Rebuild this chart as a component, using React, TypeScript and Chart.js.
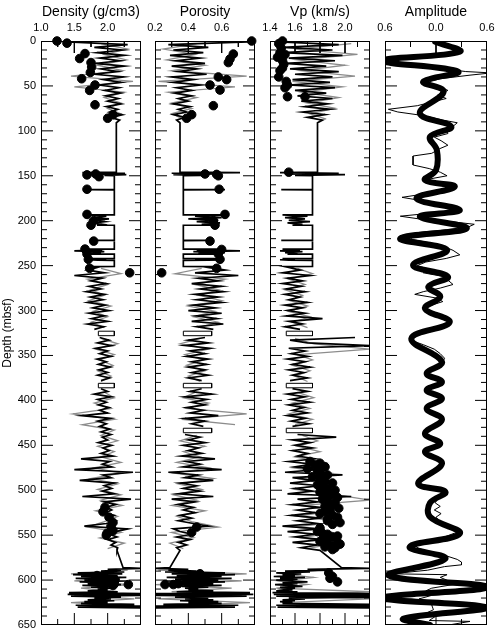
import React, { useEffect, useRef } from 'react';
import { Chart, registerables } from 'chart.js';

Chart.register(...registerables);

const FONT = "'Liberation Sans', Arial, Helvetica, sans-serif";
const GRAY = 'rgb(140,140,140)';

// ---------------- depth axis ----------------
const DEPTH_MIN = 0;
const DEPTH_MAX = 650;
const DEPTH_STEP = 10;
const DEPTH_LABEL_STEP = 50;

// ---------------- x axes ----------------
const densLabels = [1.0, 1.5, 2.0];
const poroLabels = [0.2, 0.4, 0.6];
const vpLabels = [1.4, 1.6, 1.8, 2.0];
const ampLabels = [-0.6, 0, 0.6];

// ---------------- log sampling grids (m) ----------------
const RUN_A_TOP = 1, RUN_A_STEP = 3;     // 1 .. 91
const RUN_B_TOP = 252, RUN_B_STEP = 3;   // 252 .. 567
const RUN_C_TOP = 586, RUN_C_STEP = 1;   // 586 .. 631
const GRAY_A_TOP = 3, GRAY_B_TOP = 253, GRAY_STEP = 6;
const GRAY_C_TOP = 589, GRAY_C_STEP = 4;

// depths of the sparse middle section (146-251 m), shared by the three logs
const midDepth = [146, 146.5, 147.2, 148, 148.8, 149.5, 150, 165, 165.4, 165.8,
  193.5, 193.6, 195, 196.5, 198, 199.5, 201, 202.5, 204, 205,
  205.1, 221.6, 221.8, 222.2, 231.6, 231.7, 232.5, 233.5, 234.5, 235.5,
  236.5, 237.2, 237.3, 242, 242.1, 242.8, 243.5, 244, 244.1, 251, 251.1];

// ---------------- Density (g/cm3) ----------------
const densRunA = [1.40, 2.30, 1.80, 2.22, 1.84, 2.25, 1.88, 2.18, 1.82, 2.25,
  1.90, 2.15, 1.80, 2.24, 1.94, 2.20, 1.88, 2.17, 1.96, 2.19,
  1.97, 2.16, 2.00, 2.20, 1.98, 2.15, 2.03, 2.22, 2.05, 2.18, 2.13];
const densMid = [2.13, 1.62, 2.26, 1.80, 2.28, 1.95, 2.10, 2.10, 1.70, 2.10,
  2.10, 1.72, 1.98, 1.76, 2.02, 1.80, 1.96, 1.78, 1.92, 1.84,
  2.10, 2.10, 1.79, 2.10, 2.10, 1.70, 1.92, 1.50, 1.95, 1.68,
  1.90, 1.72, 2.10, 2.10, 1.75, 1.98, 1.70, 1.85, 2.10, 2.10, 1.80];
const densRunB = [1.85, 1.70, 1.95, 1.50, 1.92, 1.75, 1.98, 1.72, 1.90, 1.68,
  1.95, 1.74, 1.93, 1.70, 1.96, 1.78, 2.02, 1.72, 1.95, 1.76,
  2.00, 1.70, 1.94, 1.80, null, null, 1.88, 2.02, 1.85, 2.06,
  1.82, 2.00, 1.88, 2.05, 1.84, 1.98, 1.86, 2.04, 1.87, 2.00,
  1.85, 2.03, 1.90, null, null, 1.90, 2.00, 1.80, 2.05, 1.85,
  1.98, 1.86, 2.02, 1.88, 2.00, 1.62, 2.04, 1.85, 1.98, 1.88,
  2.03, 1.90, 2.05, 1.92, 2.00, 1.86, 2.06, 1.93, 2.02, 1.90,
  2.08, 1.60, 2.03, 1.92, 2.06, 1.50, 2.38, 1.93, 2.05, 1.58,
  2.10, 1.95, 2.06, 1.92, 2.10, 1.62, 2.35, 1.95, 2.12, 1.98,
  2.06, 1.97, 2.10, 2.00, 2.12, 1.98, 1.65, 2.30, 2.12, 2.02,
  2.14, 2.00, 2.12, 2.05, 2.15, 2.14];
const densRunC = [2.23, 2.50, 2.00, 2.20, 1.90, 2.25, 1.55, 2.22, 1.48, 2.15,
  1.60, 2.28, 1.52, 2.18, 1.65, 2.30, 1.58, 2.12, 1.70, 2.20,
  1.62, 2.10, 1.75, 2.05, 1.85, 2.00, 1.70, 2.15, 1.42, 2.50,
  1.40, 2.50, 1.45, 2.20, 1.80, 2.05, 1.70, 2.10, 1.65, 2.00,
  1.60, 2.40, 1.52, 2.50, 1.55, 2.50];
const densGrayA = [1.90, 2.30, 1.95, 2.28, 1.85, 2.22, 1.45, 2.38, 1.50, 2.25, 1.95, 2.20, 2.00, 2.20, 2.08];
const densGrayB = [1.90, 2.20, 1.70, 2.00, 1.75, 1.95, 1.72, 2.05, 1.78, 2.00,
  1.75, 1.95, null, 1.90, 2.15, 1.82, 2.10, 1.88, 2.08, 1.85,
  2.05, 1.90, null, 1.95, 2.10, 1.80, 2.05, 1.48, 2.10, 1.62,
  2.10, 1.90, 2.15, 1.85, 2.10, 1.90, 2.20, 1.80, 2.20, 1.75,
  2.15, 1.85, 2.20, 1.90, 2.22, 1.82, 2.15, 1.95, 1.70, 2.20,
  1.88, 2.25, 2.00];
const densGrayC = [2.30, 1.45, 2.20, 1.50, 2.35, 1.60, 2.15, 1.50, 2.40, 1.45, 2.30];
const densBoxTop = [323, 381];
const densBoxBottom = [328, 386];
const densBoxLeft = 1.86, densBoxRight = 2.10;
const densCoreDepth = [0, 2.4, 14, 19.5, 24, 29, 35, 42, 49, 55,
  71, 82, 86, 148, 149, 151, 165, 193, 200, 205,
  222.7, 231.6, 237, 243, 253, 258, 524, 536, 545, 548,
  550, 595, 597, 600, 600, 604, 605, 606, 530, 540, 519];
const densCoreVal = [1.24, 1.39, 1.66, 1.58, 1.75, 1.76, 1.74, 1.61, 1.81, 1.73,
  1.81, 2.08, 2.00, 1.82, 1.69, 1.87, 1.69, 1.69, 1.79, 1.75,
  1.79, 1.66, 1.69, 1.71, 1.73, 2.33, 1.93, 2.08, 2.08, 1.99,
  1.98, 1.84, 1.91, 1.99, 2.11, 2.10, 2.31, 2.08, 2.02, 2.05, 1.96];

// ---------------- Porosity ----------------
const poroRunA = [0.76, 0.28, 0.52, 0.31, 0.49, 0.29, 0.47, 0.33, 0.50, 0.30,
  0.45, 0.34, 0.51, 0.30, 0.43, 0.31, 0.47, 0.33, 0.42, 0.32,
  0.42, 0.34, 0.40, 0.31, 0.41, 0.34, 0.39, 0.31, 0.38, 0.33, 0.35];
const poroMid = [0.35, 0.71, 0.30, 0.56, 0.31, 0.48, 0.37, 0.37, 0.62, 0.37,
  0.37, 0.64, 0.44, 0.60, 0.40, 0.58, 0.45, 0.59, 0.48, 0.55,
  0.37, 0.37, 0.54, 0.37, 0.37, 0.60, 0.45, 0.71, 0.43, 0.62,
  0.46, 0.59, 0.37, 0.37, 0.58, 0.44, 0.61, 0.52, 0.37, 0.37, 0.55];
const poroRunB = [0.52, 0.62, 0.44, 0.70, 0.46, 0.58, 0.42, 0.60, 0.47, 0.61,
  0.44, 0.58, 0.45, 0.60, 0.43, 0.56, 0.40, 0.60, 0.45, 0.57,
  0.42, 0.61, 0.45, 0.55, null, null, 0.50, 0.40, 0.52, 0.38,
  0.53, 0.41, 0.50, 0.39, 0.52, 0.42, 0.51, 0.40, 0.50, 0.42,
  0.52, 0.40, 0.48, null, null, 0.48, 0.41, 0.54, 0.38, 0.51,
  0.42, 0.50, 0.39, 0.49, 0.41, 0.58, 0.38, 0.50, 0.42, 0.49,
  null, null, 0.38, 0.47, 0.40, 0.50, 0.37, 0.46, 0.40, 0.48,
  0.36, 0.56, 0.39, 0.47, 0.37, 0.60, 0.28, 0.46, 0.38, 0.55,
  0.35, 0.45, 0.37, 0.47, 0.34, 0.55, 0.30, 0.44, 0.34, 0.43,
  0.37, 0.44, 0.35, 0.42, 0.34, 0.43, 0.52, 0.31, 0.35, 0.42,
  0.33, 0.41, 0.34, 0.39, 0.33, 0.35];
const poroRunC = [0.29, 0.20, 0.40, 0.28, 0.45, 0.26, 0.62, 0.30, 0.68, 0.33,
  0.60, 0.27, 0.66, 0.32, 0.58, 0.25, 0.62, 0.35, 0.55, 0.30,
  0.60, 0.36, 0.52, 0.38, 0.46, 0.40, 0.55, 0.33, 0.77, 0.20,
  0.79, 0.20, 0.75, 0.32, 0.52, 0.38, 0.55, 0.35, 0.58, 0.40,
  0.60, 0.25, 0.70, 0.20, 0.68, 0.20];
const poroGrayA = [0.45, 0.25, 0.44, 0.27, 0.50, 0.30, 0.75, 0.22, 0.68, 0.28, 0.45, 0.30, 0.42, 0.30, 0.37];
const poroGrayB = [0.48, 0.32, 0.62, 0.44, 0.58, 0.46, 0.60, 0.40, 0.56, 0.43,
  0.58, 0.46, null, 0.47, 0.35, 0.52, 0.38, 0.49, 0.39, 0.50,
  0.40, 0.47, null, 0.44, 0.37, 0.52, 0.39, 0.75, 0.36, 0.68,
  null, 0.45, 0.35, 0.50, 0.37, 0.47, 0.33, 0.52, 0.32, 0.55,
  0.34, 0.48, 0.31, 0.45, 0.30, 0.50, 0.33, 0.42, 0.58, 0.30,
  0.43, 0.29, 0.37];
const poroGrayC = [0.22, 0.75, 0.28, 0.72, 0.20, 0.66, 0.30, 0.72, 0.22, 0.77, 0.25];
const poroBoxTop = [323, 381, 431];
const poroBoxBottom = [328, 386, 436];
const poroBoxLeft = 0.37, poroBoxRight = 0.54;
const poroCoreDepth = [0, 14.5, 20, 24, 40, 43, 49, 54.6, 72, 82,
  86, 148, 148.5, 150, 165, 193, 200, 205, 222.7, 232,
  237, 243, 253, 258, 541, 547, 593, 598, 602, 604,
  605, 605];
const poroCoreVal = [0.78, 0.67, 0.65, 0.64, 0.58, 0.63, 0.53, 0.59, 0.55, 0.42,
  0.39, 0.50, 0.57, 0.58, 0.585, 0.62, 0.55, 0.56, 0.53, 0.60,
  0.58, 0.59, 0.57, 0.24, 0.45, 0.42, 0.47, 0.41, 0.39, 0.34,
  0.31, 0.26];

// ---------------- Vp (km/s) ----------------
const vpRunA = [1.48, 1.95, 1.50, 1.90, 1.50, 1.98, 1.55, 1.92, 1.52, 1.85,
  1.56, 1.95, 1.60, 1.90, 1.58, 1.88, 1.55, 1.92, 1.60, 1.85,
  1.62, 1.90, 1.65, 1.86, 1.68, 1.88, 1.66, 1.84, 1.70, 1.82, 1.78];
const vpMid = [1.78, 1.48, 1.95, 1.52, 2.00, 1.60, 1.74, 1.74, 1.49, 1.74,
  1.74, 1.50, 1.70, 1.52, 1.68, 1.55, 1.72, 1.54, 1.66, 1.58,
  1.74, 1.74, 1.49, 1.74, 1.74, 1.50, 1.64, 1.48, 1.66, 1.52,
  1.62, 1.54, 1.74, 1.74, 1.50, 1.60, 1.48, 1.55, 1.74, 1.74, 1.52];
const vpRunB = [1.55, 1.64, 1.50, 1.72, 1.54, 1.66, 1.50, 1.65, 1.53, 1.68,
  1.52, 1.64, 1.55, 1.70, 1.52, 1.66, 1.54, 1.68, 1.53, 1.82,
  1.55, 1.66, 1.52, 1.64, null, null, 2.08, 1.56, 1.70, 2.20,
  1.55, 1.68, 1.57, 1.70, 1.54, 1.68, 1.58, 1.72, 1.55, 1.67,
  1.58, 1.70, 1.56, null, null, 1.58, 1.70, 1.54, 1.68, 1.57,
  1.72, 1.55, 1.67, 1.58, 1.70, 1.54, 1.68, 1.57, 1.71, 1.58,
  null, null, 1.62, 1.93, 1.58, 1.72, 1.60, 1.74, 1.58, 1.70,
  1.62, 1.76, 1.55, 1.74, 1.60, 1.78, 1.52, 1.98, 1.58, 1.76,
  1.56, 1.80, 1.60, 1.74, 1.54, 2.05, 1.62, 1.78, 1.58, 1.80,
  1.62, 1.76, 1.57, 1.80, 1.62, 1.78, 1.50, 1.80, 1.54, 1.76,
  1.60, 1.82, 1.58, 1.78, 1.65, 1.80];
const vpRunC = [1.97, 2.20, 1.70, 1.88, 1.52, 1.72, 1.45, 1.65, 1.50, 1.60,
  1.43, 1.68, 1.48, 1.62, 1.45, 1.58, 1.70, 1.50, 1.62, 1.44,
  1.55, 1.66, 1.48, 1.60, 1.52, 1.58, 1.45, 1.62, 1.42, 2.20,
  1.43, 2.20, 1.45, 2.20, 1.55, 1.68, 1.50, 1.60, 1.48, 1.58,
  1.50, 2.20, 1.45, 2.20, 1.46, 2.20];
const vpGrayA = [2.05, 1.60, 2.10, 1.62, 2.00, 1.65, 2.08, 1.58, 1.98, 1.66, 1.95, 1.70, 1.92, 1.72, 1.85];
const vpGrayB = [1.62, 1.74, 1.55, 1.68, 1.52, 1.66, 1.56, 1.70, 1.55, 1.72,
  1.58, 1.70, null, 1.60, 1.75, 2.20, 1.62, 1.74, 1.58, 1.72,
  1.60, 1.70, null, 1.62, 1.75, 1.58, 1.72, 1.55, 1.74, 1.60,
  null, 1.66, 1.78, 1.62, 1.80, 1.60, 1.84, 1.58, 1.88, 1.62,
  1.85, 1.60, 1.92, 2.20, 1.65, 1.90, 1.62, 1.95, 1.60, 1.90,
  1.65, 1.92, 1.70];
const vpGrayC = [1.80, 1.50, 1.75, 1.48, 1.70, 1.45, 2.20, 1.48, 2.20, 1.50, 1.90];
const vpBoxTop = [323, 381, 431];
const vpBoxBottom = [328, 386, 436];
const vpBoxLeft = 1.53, vpBoxRight = 1.74;
const vpCoreDepth = [0, 3, 13, 15, 18, 22, 30, 33, 49, 52, 62, 62, 146, 8, 26, 40, 45,
  468, 472, 476, 480, 485, 490, 494, 498, 502, 506,
  510, 514, 518, 522, 526, 530, 534, 538, 542, 546,
  549, 552, 555, 558, 561, 564,
  470, 474, 478, 483, 487, 492, 496, 500, 504, 508,
  512, 516, 520, 524, 528, 532, 536, 548, 551, 554,
  557, 560, 563, 566,
  592, 596, 598, 602];
const vpCoreVal = [1.50, 1.47, 1.48, 1.52, 1.46, 1.50, 1.50, 1.48, 1.54, 1.52, 1.54, 1.68, 1.55, 1.49, 1.51, 1.47, 1.53,
  1.72, 1.76, 1.70, 1.80, 1.74, 1.84, 1.78, 1.86, 1.80, 1.88,
  1.82, 1.92, 1.84, 1.88, 1.80, 1.94, 1.86, 1.90, 1.80, 1.78,
  1.86, 1.90, 1.82, 1.94, 1.88, 1.92,
  1.80, 1.84, 1.78, 1.86, 1.80, 1.90, 1.82, 1.92, 1.84, 1.94,
  1.86, 1.90, 1.95, 1.84, 1.90, 1.86, 1.96, 1.82, 1.94, 1.86,
  1.80, 1.96, 1.84, 1.90,
  1.87, 1.90, 1.88, 1.94];

// ---------------- Amplitude ----------------
const synthDepth = [0.7, 11.9, 21.9, 34.1, 45.3, 56.4, 80.5, 95.4, 106.5, 121.4,
  143.7, 154.8, 162.2, 175.2, 188.2, 195.6, 208.6, 219.7, 232.7, 249.4,
  262.4, 273.6, 284.7, 297.7, 313, 331.1, 357.1, 370, 379.4, 388.6,
  397.9, 409, 421.3, 436.9, 448, 457.3, 470.3, 492.6, 501.9, 514.1,
  529.7, 548.2, 563.1, 576.1, 594.7, 607.7, 619.9, 630.6, 642.9, 650];
const synthAmp = [-0.01, 0.28, -0.62, 0.26, -0.15, 0.09, -0.19, 0.18, -0.07, 0.01,
  0.00, -0.13, 0.22, -0.23, 0.28, -0.19, 0.36, -0.42, 0.13, -0.27,
  0.14, -0.09, 0.05, -0.13, 0.16, -0.29, 0.07, -0.11, 0.07, -0.11,
  0.07, -0.11, 0.07, -0.13, 0.05, -0.13, 0.07, -0.21, 0.11, -0.07,
  -0.07, 0.28, -0.31, 0.11, -0.56, 0.60, -0.62, 0.60, -0.38, -0.07];
const traceDepth = [0, 6, 12, 17, 22, 27, 31, 34, 35.5, 38,
  42, 46, 50, 55, 60, 64, 68, 72, 76, 79,
  83, 88, 91, 95, 99, 103, 107, 111, 116, 120,
  125, 128, 138, 142, 146, 150, 154, 158, 162, 166,
  170, 174, 178, 182, 186, 189, 192, 195, 198, 201,
  204, 207, 210, 213, 217, 221, 225, 229, 233, 238,
  242, 246, 250, 254, 258, 262, 267, 271, 275, 279,
  282, 286, 290, 294, 298, 303, 308, 313, 318, 323,
  328, 333, 338, 343, 348, 353, 358, 364, 370, 375,
  380, 385, 389, 394, 398, 404, 409, 415, 421, 428,
  436, 442, 448, 453, 457, 463, 470, 476, 482, 488,
  493, 498, 502, 506, 510, 514, 518, 522, 526, 530,
  534, 538, 542, 547, 552, 556, 561, 565, 569, 573,
  577, 580, 583, 585, 589, 593, 594, 597, 601, 605,
  609, 612, 613, 617, 621, 625, 628, 633, 637, 640,
  645, 646, 650];
const traceAmp = [0.02, 0.22, 0.30, -0.05, -0.55, -0.30, 0.10, 0.35, 0.65, 0.40,
  0.05, -0.10, 0.02, 0.14, 0.02, 0.12, -0.05, -0.22, -0.56, -0.45,
  -0.15, 0.08, 0.25, 0.20, 0.12, 0.14, -0.02, 0.06, 0.14, 0.04,
  -0.05, -0.27, -0.27, -0.08, 0.05, 0.13, -0.10, 0.00, 0.20, 0.12,
  -0.12, -0.40, -0.15, 0.02, 0.22, 0.15, -0.10, -0.42, -0.20, 0.17,
  0.45, 0.38, 0.12, -0.20, -0.32, -0.28, -0.05, 0.10, 0.20, 0.28,
  0.12, -0.12, -0.22, -0.08, -0.15, 0.08, 0.15, 0.20, 0.05, -0.15,
  -0.25, 0.00, 0.08, -0.05, -0.14, 0.02, 0.14, 0.18, 0.05, -0.15,
  -0.22, -0.30, -0.15, -0.02, 0.05, 0.10, 0.08, -0.05, -0.10, 0.00,
  0.09, -0.02, -0.10, 0.00, 0.06, -0.04, -0.10, 0.00, 0.06, -0.03,
  -0.12, -0.02, 0.06, -0.05, -0.12, -0.02, 0.08, 0.00, -0.10, -0.18,
  -0.18, 0.02, 0.12, 0.04, 0.02, -0.01, 0.05, -0.02, 0.06, 0.00,
  0.04, 0.06, 0.15, 0.24, 0.10, -0.10, -0.25, -0.20, -0.05, 0.12,
  0.25, 0.30, 0.30, 0.10, -0.10, -0.52, 0.13, 0.05, 0.15, 0.20,
  -0.05, -0.12, 0.40, -0.05, -0.20, 0.02, -0.05, -0.03, -0.12, 0.00,
  -0.08, 0.40, 0.15];

// ---------------- helpers ----------------
type Pt = { x: number | null; y: number | null };
const BREAK: Pt = { x: null, y: null };
const sampled = (top: number, step: number, vals: (number | null)[]): Pt[] =>
  vals.map((v, i) => ({ x: v, y: top + i * step }));
const paired = (depths: number[], vals: number[]): Pt[] =>
  depths.map((d, i) => ({ x: vals[i], y: d }));
const boxes = (tops: number[], bottoms: number[], left: number, right: number): Pt[] => {
  const out: Pt[] = [];
  tops.forEach((t, i) => {
    const b = bottoms[i];
    out.push({ x: left, y: t }, { x: right, y: t }, { x: right, y: b }, { x: left, y: b }, { x: left, y: t }, BREAK);
  });
  return out;
};

function logDatasets(core: Pt[], black: Pt[], box: Pt[], gray: Pt[]) {
  return [
    { data: core, showLine: false, pointRadius: 4.3, pointBackgroundColor: '#000', pointBorderColor: '#000', pointBorderWidth: 1, clip: false },
    { data: black, showLine: true, borderColor: '#000', borderWidth: 1.7, pointRadius: 0, tension: 0 },
    { data: box, showLine: true, borderColor: '#000', borderWidth: 1, pointRadius: 0, tension: 0 },
    { data: gray, showLine: true, borderColor: GRAY, borderWidth: 1.3, pointRadius: 0, tension: 0 },
  ];
}

function buildLog(runA: number[], mid: number[], runB: (number | null)[], runC: number[],
  grayA: number[], grayB: (number | null)[], grayC: number[]) {
  const black = [
    ...sampled(RUN_A_TOP, RUN_A_STEP, runA),
    ...paired(midDepth, mid),
    ...sampled(RUN_B_TOP, RUN_B_STEP, runB),
    ...sampled(RUN_C_TOP, RUN_C_STEP, runC),
  ];
  const gray = [
    ...sampled(GRAY_A_TOP, GRAY_STEP, grayA), BREAK,
    ...sampled(GRAY_B_TOP, GRAY_STEP, grayB), BREAK,
    ...sampled(GRAY_C_TOP, GRAY_C_STEP, grayC),
  ];
  return { black, gray };
}

const isMult = (v: number, m: number) => Math.abs(v / m - Math.round(v / m)) < 1e-6;

type PanelSpec = {
  canvasLeft: number; canvasWidth: number; axisWidth: number; rightPad: number;
  xMin: number; xMax: number; xStep: number; xMajor: number; xLabels: number[];
  title: string; showY: boolean; datasets: any[];
};

const H = 634;
const AREA_TOP = 41;
const AREA_BOTTOM = 625;
const TICK_MAJOR_PX = 12;
const TICK_MINOR_PX = 6;

// inward tick marks on all four sides, drawn as short line segments through the chart's scales
function tickDataset(p: PanelSpec) {
  const plotW = p.canvasWidth - p.axisWidth - p.rightPad;
  const plotH = AREA_BOTTOM - AREA_TOP;
  const xPerPx = (p.xMax - p.xMin) / plotW;
  const dPerPx = (DEPTH_MAX - DEPTH_MIN) / plotH;
  const pts: Pt[] = [];
  const ny = Math.round((DEPTH_MAX - DEPTH_MIN) / DEPTH_STEP);
  for (let i = 1; i < ny; i++) {
    const v = DEPTH_MIN + i * DEPTH_STEP;
    const len = (isMult(v, DEPTH_LABEL_STEP) ? TICK_MAJOR_PX : TICK_MINOR_PX) * xPerPx;
    pts.push({ x: p.xMin, y: v }, { x: p.xMin + len, y: v }, BREAK);
    pts.push({ x: p.xMax, y: v }, { x: p.xMax - len, y: v }, BREAK);
  }
  const nx = Math.round((p.xMax - p.xMin) / p.xStep);
  for (let i = 1; i < nx; i++) {
    const v = p.xMin + i * p.xStep;
    const len = (isMult(v, p.xMajor) ? TICK_MAJOR_PX : TICK_MINOR_PX) * dPerPx;
    pts.push({ x: v, y: DEPTH_MIN }, { x: v, y: DEPTH_MIN + len }, BREAK);
    pts.push({ x: v, y: DEPTH_MAX }, { x: v, y: DEPTH_MAX - len }, BREAK);
  }
  return { data: pts, showLine: true, borderColor: '#000', borderWidth: 1, pointRadius: 0, tension: 0, clip: false, spanGaps: false };
}

// panel frame
function drawFrame(chart: any) {
  const ctx: CanvasRenderingContext2D = chart.ctx;
  const a = chart.chartArea;
  if (!a) return;
  const L = Math.round(a.left), R = Math.round(a.right), T = Math.round(a.top), B = Math.round(a.bottom);
  ctx.save();
  ctx.fillStyle = '#000';
  ctx.fillRect(L, T, R - L, 1);
  ctx.fillRect(L, B - 1, R - L, 1);
  ctx.fillRect(L, T, 1, B - T);
  ctx.fillRect(R - 1, T, 1, B - T);
  ctx.restore();
}

const framePlugin = {
  id: 'panelFrame',
  afterDraw(chart: any) {
    drawFrame(chart);
  },
};

function buildConfig(p: PanelSpec): any {
  return {
    type: 'scatter',
    data: { datasets: [tickDataset(p), ...p.datasets] },
    options: {
      responsive: false,
      animation: false,
      devicePixelRatio: 1,
      events: [],
      layout: { padding: { left: 0, top: 0, right: p.rightPad, bottom: H - AREA_BOTTOM } },
      plugins: {
        legend: { display: false },
        tooltip: { enabled: false },
      },
      scales: {
        x: {
          type: 'linear', position: 'top', min: p.xMin, max: p.xMax,
          grid: { display: false, drawTicks: false }, border: { display: false },
          ticks: {
            stepSize: p.xStep, autoSkip: false, maxRotation: 0, minRotation: 0, padding: 6,
            font: { size: 11, family: FONT }, color: '#000',
            callback: (v: number) => (p.xLabels.some((l) => Math.abs(l - v) < 1e-6) ? Math.abs(v).toFixed(1) : ''),
          },
          title: { display: true, text: p.title, font: { size: 14, family: FONT }, color: '#000', padding: { top: 3.5, bottom: 0 } },
          afterFit: (s: any) => { s.height = AREA_TOP; s.paddingLeft = 0; s.paddingRight = 0; s.paddingTop = 0; s.paddingBottom = 0; },
        },
        y: {
          type: 'linear', position: 'left', reverse: true, min: DEPTH_MIN, max: DEPTH_MAX,
          grid: { display: false, drawTicks: false }, border: { display: false },
          ticks: {
            display: p.showY, stepSize: DEPTH_STEP, autoSkip: false, padding: 5,
            font: { size: 11, family: FONT }, color: '#000',
            callback: (v: number) => (v % DEPTH_LABEL_STEP === 0 ? String(v) : ''),
          },
          title: { display: p.showY, text: 'Depth (mbsf)', font: { size: 12, family: FONT }, color: '#000', padding: { top: 0, bottom: 0 } },
          afterFit: (s: any) => { s.width = p.axisWidth; s.paddingLeft = 0; s.paddingRight = 0; s.paddingTop = 0; s.paddingBottom = 0; },
        },
      },
    },
    plugins: [framePlugin],
  };
}

function Panel({ spec }: { spec: PanelSpec }) {
  const ref = useRef<HTMLCanvasElement>(null);
  useEffect(() => {
    const chart = new Chart(ref.current as HTMLCanvasElement, buildConfig(spec));
    return () => chart.destroy();
  }, []);
  return (
    <canvas
      ref={ref}
      width={spec.canvasWidth}
      height={H}
      style={{ position: 'absolute', left: spec.canvasLeft, top: 0, width: spec.canvasWidth, height: H }}
    />
  );
}

Chart.defaults.font.family = FONT;
Chart.defaults.color = '#000';

export default function App() {
  const dens = buildLog(densRunA, densMid, densRunB, densRunC, densGrayA, densGrayB, densGrayC);
  const poro = buildLog(poroRunA, poroMid, poroRunB, poroRunC, poroGrayA, poroGrayB, poroGrayC);
  const vp = buildLog(vpRunA, vpMid, vpRunB, vpRunC, vpGrayA, vpGrayB, vpGrayC);

  const panels: PanelSpec[] = [
    {
      canvasLeft: 0, canvasWidth: 150, axisWidth: 41, rightPad: 9,
      xMin: 1.0, xMax: 2.5, xStep: 0.25, xMajor: 0.5, xLabels: densLabels,
      title: 'Density (g/cm3)', showY: true,
      datasets: logDatasets(paired(densCoreDepth, densCoreVal), dens.black,
        boxes(densBoxTop, densBoxBottom, densBoxLeft, densBoxRight), dens.gray),
    },
    {
      canvasLeft: 141, canvasWidth: 124, axisWidth: 14, rightPad: 10,
      xMin: 0.2, xMax: 0.8, xStep: 0.1, xMajor: 0.2, xLabels: poroLabels,
      title: 'Porosity', showY: false,
      datasets: logDatasets(paired(poroCoreDepth, poroCoreVal), poro.black,
        boxes(poroBoxTop, poroBoxBottom, poroBoxLeft, poroBoxRight), poro.gray),
    },
    {
      canvasLeft: 256, canvasWidth: 124, axisWidth: 14, rightPad: 10,
      xMin: 1.4, xMax: 2.2, xStep: 0.1, xMajor: 0.2, xLabels: vpLabels,
      title: 'Vp (km/s)', showY: false,
      datasets: logDatasets(paired(vpCoreDepth, vpCoreVal), vp.black,
        boxes(vpBoxTop, vpBoxBottom, vpBoxLeft, vpBoxRight), vp.gray),
    },
    {
      canvasLeft: 371, canvasWidth: 125, axisWidth: 14, rightPad: 9,
      xMin: -0.6, xMax: 0.6, xStep: 0.3, xMajor: 0.6, xLabels: ampLabels,
      title: 'Amplitude', showY: false,
      datasets: [
        {
          data: paired(synthDepth, synthAmp), showLine: true, borderColor: '#000', borderWidth: 6,
          pointRadius: 0, tension: 0.4, borderCapStyle: 'round', borderJoinStyle: 'round',
        },
        { data: paired(traceDepth, traceAmp), showLine: true, borderColor: '#000', borderWidth: 1, pointRadius: 0, tension: 0 },
      ],
    },
  ];

  return (
    <div style={{ position: 'absolute', left: 0, top: 0, width: 496, height: H, background: '#fff', overflow: 'hidden' }}>
      {panels.map((p, i) => (
        <Panel key={i} spec={p} />
      ))}
    </div>
  );
}
